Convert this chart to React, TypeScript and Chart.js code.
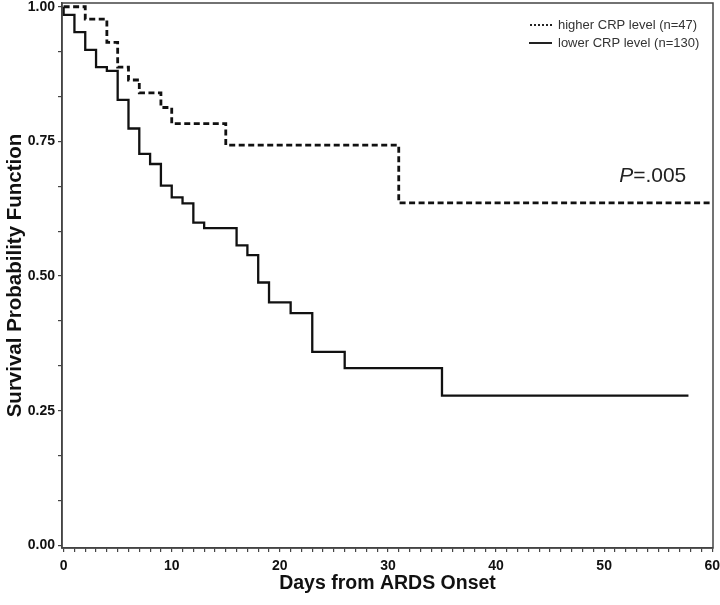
import { useEffect, useRef } from 'react';
import { Chart, registerables } from 'chart.js';

Chart.register(...registerables);

// ---- Data ----
const higherDays = [0, 2, 4, 5, 6, 7, 9, 10, 15, 31, 60];
const higherSurvival = [1.0, 0.977, 0.934, 0.888, 0.864, 0.84, 0.813, 0.783, 0.743, 0.636, 0.636];

const lowerDays = [0, 0, 1, 2, 3, 4, 5, 6, 7, 8, 9, 10, 11, 12, 13, 16, 17, 18, 19, 21, 23, 26, 35, 57.8];
const lowerSurvival = [1.0, 0.985, 0.953, 0.92, 0.888, 0.881, 0.827, 0.774, 0.727, 0.708, 0.668, 0.646, 0.635, 0.599, 0.589, 0.557, 0.539, 0.488, 0.451, 0.431, 0.359, 0.329, 0.278, 0.278];

const seriesLabels = ['higher CRP level (n=47)', 'lower CRP level (n=130)'];
const xMajorTicks = [0, 10, 20, 30, 40, 50, 60];
const yMajorTicks = [0, 0.25, 0.5, 0.75, 1.0];
const xMinorPerMajor = 10;
const yMinorPerMajor = 3;
const pValueText = ['P', '=.005'];
const xTitle = 'Days from ARDS Onset';
const yTitle = 'Survival Probability Function';

const FONT = '"Liberation Sans", Arial, sans-serif';

function withMinor(majors: number[], per: number): number[] {
  const out: number[] = [];
  for (let i = 0; i < majors.length; i++) {
    out.push(majors[i]);
    if (i < majors.length - 1) {
      const step = (majors[i + 1] - majors[i]) / per;
      for (let k = 1; k < per; k++) out.push(majors[i] + step * k);
    }
  }
  return out;
}

function zeroPadding(scale: any) {
  scale.paddingLeft = 0;
  scale.paddingRight = 0;
  scale.paddingTop = 0;
  scale.paddingBottom = 0;
}

const overlayPlugin = {
  id: 'kmOverlay',
  afterDraw(chart: any) {
    const { ctx, chartArea } = chart;
    const { left, right, top, bottom } = chartArea;
    ctx.save();
    // frame
    ctx.strokeStyle = '#444';
    ctx.lineWidth = 1.5;
    ctx.setLineDash([]);
    ctx.strokeRect(left, top, right - left, bottom - top);

    // legend
    const textX = right - 155;
    const rows = [top + 22, top + 40];
    ctx.font = `13px ${FONT}`;
    ctx.fillStyle = '#333';
    ctx.textBaseline = 'middle';
    ctx.textAlign = 'left';
    ctx.strokeStyle = '#222';
    ctx.lineWidth = 2;
    ctx.setLineDash([2, 2]);
    ctx.beginPath();
    ctx.moveTo(textX - 28, rows[0]);
    ctx.lineTo(textX - 6, rows[0]);
    ctx.stroke();
    ctx.setLineDash([]);
    ctx.beginPath();
    ctx.moveTo(textX - 29, rows[1]);
    ctx.lineTo(textX - 6, rows[1]);
    ctx.stroke();
    ctx.fillText(seriesLabels[0], textX, rows[0]);
    ctx.fillText(seriesLabels[1], textX, rows[1]);

    // P value
    const xs = chart.scales.x;
    const ys = chart.scales.y;
    const px = xs.getPixelForValue(57.6);
    const py = ys.getPixelForValue(0.685);
    ctx.fillStyle = '#222';
    ctx.font = `21px ${FONT}`;
    const w2 = ctx.measureText(pValueText[1]).width;
    ctx.textAlign = 'left';
    ctx.fillText(pValueText[1], px - w2, py);
    ctx.font = `italic 21px ${FONT}`;
    const w1 = ctx.measureText(pValueText[0]).width;
    ctx.fillText(pValueText[0], px - w2 - w1, py);
    ctx.restore();
  },
};

export default function App() {
  const ref = useRef<HTMLCanvasElement | null>(null);
  useEffect(() => {
    document.body.style.margin = '0';
    const canvas = ref.current;
    if (!canvas) return;
    const xTicks = withMinor(xMajorTicks, xMinorPerMajor);
    const yTicks = withMinor(yMajorTicks, yMinorPerMajor);
    const chart = new Chart(canvas, {
      type: 'line',
      data: {
        datasets: [
          {
            label: seriesLabels[0],
            data: higherDays.map((d, i) => ({ x: d, y: higherSurvival[i] })),
            borderColor: '#111',
            borderWidth: 2.8,
            borderDash: [6, 3.5],
            stepped: true,
            pointRadius: 0,
            fill: false,
          },
          {
            label: seriesLabels[1],
            data: lowerDays.map((d, i) => ({ x: d, y: lowerSurvival[i] })),
            borderColor: '#111',
            borderWidth: 2.3,
            stepped: true,
            pointRadius: 0,
            fill: false,
          },
        ],
      },
      options: {
        animation: false,
        responsive: false,
        layout: { padding: { top: 3, right: 7, left: 0, bottom: 0 } },
        plugins: {
          legend: { display: false },
          tooltip: { enabled: false },
        },
        scales: {
          x: {
            type: 'linear',
            min: -0.15,
            max: 60.07,
            afterBuildTicks: (scale: any) => {
              scale.ticks = xTicks.map((v) => ({ value: v }));
            },
            afterFit: (scale: any) => {
              scale.height = 57;
              zeroPadding(scale);
            },
            grid: { drawOnChartArea: false, drawTicks: true, tickLength: 4, color: '#444', lineWidth: 1.2 },
            border: { display: true, color: '#444', width: 1.5 },
            ticks: {
              autoSkip: false,
              maxRotation: 0,
              minRotation: 0,
              padding: 6,
              color: '#111',
              font: { family: FONT, size: 14, weight: 'bold' },
              callback: (v: any) => (xMajorTicks.includes(Math.round(Number(v) * 1000) / 1000) ? String(v) : ''),
            },
            title: {
              display: true,
              text: xTitle,
              color: '#111',
              font: { family: FONT, size: 19.5, weight: 'bold' },
              padding: { top: 0, bottom: 10 },
            },
          },
          y: {
            type: 'linear',
            min: -0.005,
            max: 1.007,
            afterBuildTicks: (scale: any) => {
              scale.ticks = yTicks.map((v) => ({ value: v }));
            },
            afterFit: (scale: any) => {
              scale.width = 62;
              zeroPadding(scale);
            },
            grid: { drawOnChartArea: false, drawTicks: true, tickLength: 4, color: '#444', lineWidth: 1.2 },
            border: { display: true, color: '#444', width: 1.5 },
            ticks: {
              autoSkip: false,
              padding: 3,
              color: '#111',
              font: { family: FONT, size: 14, weight: 'bold' },
              callback: (v: any) => {
                const n = Number(v);
                return yMajorTicks.some((m) => Math.abs(m - n) < 1e-6) ? n.toFixed(2) : '';
              },
            },
            title: {
              display: true,
              text: yTitle,
              color: '#111',
              font: { family: FONT, size: 20.5, weight: 'bold' },
              padding: { top: 3, bottom: 0 },
            },
          },
        },
      },
      plugins: [overlayPlugin],
    } as any);
    return () => chart.destroy();
  }, []);
  return (
    <canvas ref={ref} width={720} height={605} style={{ display: 'block', width: 720, height: 605 }} />
  );
}
